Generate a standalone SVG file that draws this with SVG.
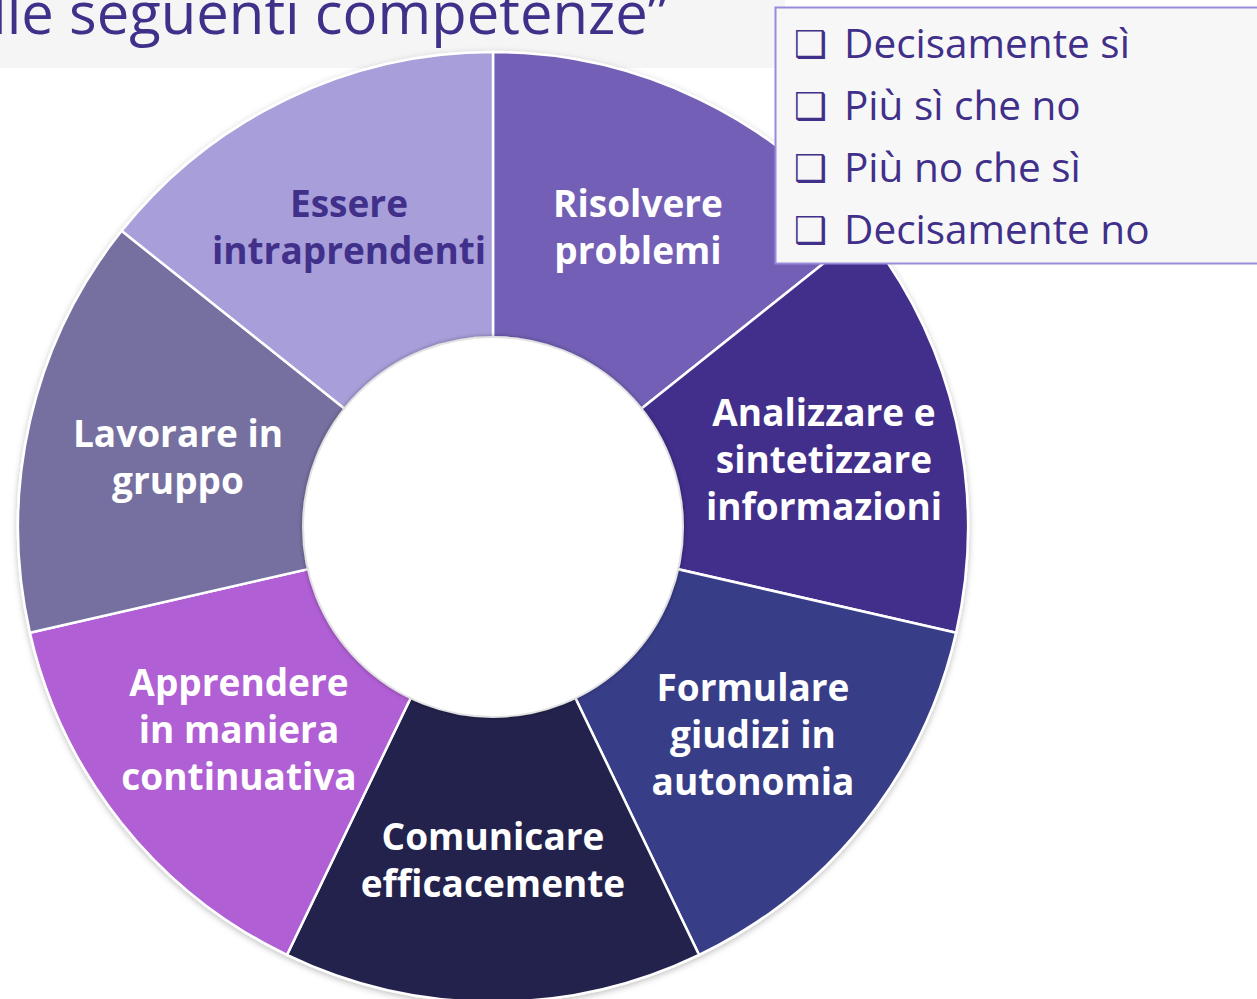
<svg xmlns="http://www.w3.org/2000/svg" width="1257" height="999" viewBox="0 0 1257 999">
<defs>
<style>
.lbl{font-family:"Open Sans","Liberation Sans",sans-serif;font-weight:700;font-size:37px;fill:#ffffff;text-anchor:middle}
.dark{fill:#40308A}
.seg{stroke:#ffffff;stroke-width:2.5}
.leg{font-family:"Open Sans","Liberation Sans",sans-serif;font-size:40.5px;fill:#40308A}
.box{font-family:"DejaVu Sans",sans-serif;font-weight:700;font-size:37px;fill:#40308A}
</style>
<filter id="sh" x="-10%" y="-10%" width="120%" height="120%">
<feDropShadow dx="0" dy="2" stdDeviation="3" flood-color="#000" flood-opacity="0.25"/>
</filter>
<filter id="ish" x="-10%" y="-10%" width="120%" height="120%">
<feDropShadow dx="0" dy="0" stdDeviation="2" flood-color="#000" flood-opacity="0.35"/>
</filter>
</defs>
<rect width="1257" height="999" fill="#ffffff"/>
<rect x="0" y="0" width="785" height="68" fill="#F5F5F5"/>
<text x="668" y="34" font-family="'Open Sans','Liberation Sans',sans-serif" font-size="58" fill="#40308A" text-anchor="end">lle seguenti competenze”</text>
<g id="donut" filter="url(#sh)">
<g id="seg-risolvere"><path class="seg" fill="#7360B6" d="M493,527 L493,52 A475,475 0 0 1 864.37,230.84 Z"/></g>
<g id="seg-analizzare"><path class="seg" fill="#432E8B" d="M493,527 L864.37,230.84 A475,475 0 0 1 956.09,632.70 Z"/></g>
<g id="seg-formulare"><path class="seg" fill="#383E88" d="M493,527 L956.09,632.70 A475,475 0 0 1 699.09,954.96 Z"/></g>
<g id="seg-comunicare"><path class="seg" fill="#22224E" d="M493,527 L699.09,954.96 A475,475 0 0 1 286.91,954.96 Z"/></g>
<g id="seg-apprendere"><path class="seg" fill="#B05FD4" d="M493,527 L286.91,954.96 A475,475 0 0 1 29.91,632.70 Z"/></g>
<g id="seg-lavorare"><path class="seg" fill="#7570A0" d="M493,527 L29.91,632.70 A475,475 0 0 1 121.63,230.84 Z"/></g>
<g id="seg-essere"><path class="seg" fill="#A89EDA" d="M493,527 L121.63,230.84 A475,475 0 0 1 493,52 Z"/></g>
</g>
<g id="center"><circle cx="493" cy="527" r="190" fill="#ffffff" stroke="#e2e2e2" stroke-width="2" filter="url(#ish)"/></g>
<g id="labels">
<g id="n-risolvere"><text class="lbl" x="638" y="217">Risolvere</text><text class="lbl" x="638" y="264">problemi</text></g>
<g id="n-essere"><text class="lbl dark" x="349" y="217">Essere</text><text class="lbl dark" x="349" y="264">intraprendenti</text></g>
<g id="n-analizzare"><text class="lbl" x="824" y="426">Analizzare e</text><text class="lbl" x="824" y="473">sintetizzare</text><text class="lbl" x="824" y="520">informazioni</text></g>
<g id="n-formulare"><text class="lbl" x="753" y="701">Formulare</text><text class="lbl" x="753" y="748">giudizi in</text><text class="lbl" x="753" y="795">autonomia</text></g>
<g id="n-comunicare"><text class="lbl" x="493" y="850">Comunicare</text><text class="lbl" x="493" y="897">efficacemente</text></g>
<g id="n-apprendere"><text class="lbl" x="239" y="696">Apprendere</text><text class="lbl" x="239" y="743">in maniera</text><text class="lbl" x="239" y="790">continuativa</text></g>
<g id="n-lavorare"><text class="lbl" x="178" y="447">Lavorare in</text><text class="lbl" x="178" y="494">gruppo</text></g>
</g>
<g id="legend">
<rect x="775.5" y="7.5" width="490" height="256" fill="#F7F7F7" stroke="#9B8ADB" stroke-width="2"/>
<text class="box" x="794" y="57">❑</text><text class="leg" x="844" y="58">Decisamente sì</text>
<text class="box" x="794" y="119">❑</text><text class="leg" x="844" y="120">Più sì che no</text>
<text class="box" x="794" y="181">❑</text><text class="leg" x="844" y="182">Più no che sì</text>
<text class="box" x="794" y="243">❑</text><text class="leg" x="844" y="244">Decisamente no</text>
</g>
</svg>
